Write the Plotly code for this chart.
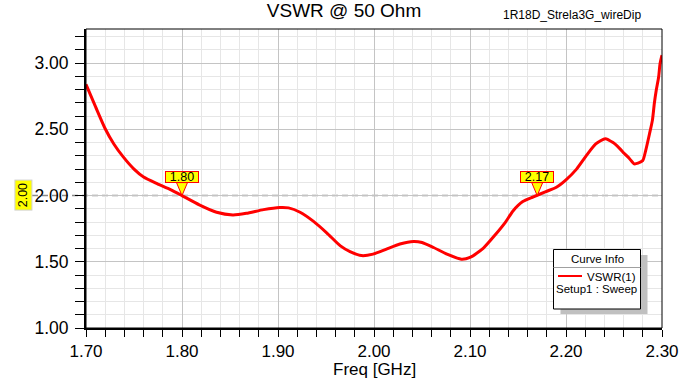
import plotly.graph_objects as go

# ---------------- data ----------------
freq_ghz = [1.700, 1.710, 1.720, 1.729, 1.739, 1.750, 1.760, 1.774, 1.788, 1.800,
            1.818, 1.836, 1.853, 1.867, 1.885, 1.902, 1.911, 1.923, 1.937, 1.951,
            1.965, 1.975, 1.987, 1.999, 2.013, 2.027, 2.041, 2.050, 2.062, 2.076,
            2.091, 2.100, 2.114, 2.127, 2.137, 2.145, 2.155, 2.166, 2.179, 2.190,
            2.200, 2.211, 2.221, 2.231, 2.241, 2.249, 2.256, 2.2605, 2.266, 2.271,
            2.275, 2.280, 2.283, 2.287, 2.290, 2.292, 2.294, 2.2965, 2.298, 2.300]
vswr = [2.84, 2.67, 2.505, 2.39, 2.29, 2.20, 2.14, 2.09, 2.045, 2.00,
        1.93, 1.874, 1.854, 1.866, 1.894, 1.910, 1.907, 1.874, 1.805, 1.717,
        1.62, 1.577, 1.547, 1.558, 1.596, 1.634, 1.654, 1.646, 1.608, 1.558,
        1.52, 1.533, 1.604, 1.71, 1.80, 1.886, 1.955, 1.99, 2.03, 2.063,
        2.119, 2.20, 2.30, 2.39, 2.43, 2.40, 2.355, 2.32, 2.28, 2.24,
        2.245, 2.265, 2.34, 2.467, 2.568, 2.695, 2.795, 2.896, 2.997, 3.06]

marker_freqs = [1.80, 2.17]
marker_labels = ["1.80", "2.17"]
ref_level = 2.00
ref_label = "2.00"

series_name = "VSWR(1)"
sweep_name = "Setup1 : Sweep"
title_text = "VSWR @ 50 Ohm"
design_text = "1R18D_Strela3G_wireDip"
x_title = "Freq [GHz]"

# ---------------- layout helpers (pixel -> paper) ----------------
W, H = 688, 378
ML, MR, MT, MB = 86, 26, 29, 50
PW, PH = W - ML - MR, H - MT - MB


def px(x):
    return (x - ML) / PW


def py(y):
    return (H - MB - y) / PH


FONT = "Arial, Liberation Sans, sans-serif"

fig = go.Figure()
fig.add_trace(go.Scatter(
    x=freq_ghz, y=vswr, mode="lines", name=series_name,
    line=dict(color="#ff0000", width=3, shape="spline", smoothing=0.6),
    showlegend=False, hoverinfo="x+y"))

axis_common = dict(
    automargin=False,
    showline=True, linecolor="black", linewidth=2,
    ticks="outside", tickcolor="black", tickwidth=1,
    showgrid=True, gridcolor="#c4c4c4", gridwidth=1,
    zeroline=False, tickformat=".2f",
)

fig.update_xaxes(
    range=[1.70, 2.30], tick0=1.70, dtick=0.1, ticklen=7,
    tickfont=dict(family=FONT, size=17, color="black"),
    minor=dict(dtick=0.02, ticks="outside", ticklen=7, tickcolor="black",
               showgrid=True, gridcolor="#e6e6e6", gridwidth=1),
    **axis_common)
fig.update_yaxes(
    range=[1.00, 3.258], tick0=1.0, dtick=0.5, ticklen=9,
    ticklabelstandoff=3,
    tickfont=dict(family=FONT, size=17.5, color="black"),
    minor=dict(dtick=0.1, ticks="outside", ticklen=9, tickcolor="black",
               showgrid=True, gridcolor="#e6e6e6", gridwidth=1),
    **axis_common)

shapes = []
# plot frame (top/right thin)
shapes.append(dict(type="rect", xref="paper", yref="paper", x0=0, x1=1, y0=0, y1=1,
                   line=dict(color="black", width=1), layer="above"))
# reference dashed line at 2.00
shapes.append(dict(type="line", xref="paper", yref="y", x0=px(22), x1=1,
                   y0=ref_level, y1=ref_level,
                   line=dict(color="#8a8a8a", width=1.5, dash="6px,4px"),
                   layer="between"))
# marker triangles
for f in marker_freqs:
    shapes.append(dict(type="path", xref="x", yref="y", xsizemode="pixel",
                       ysizemode="pixel", xanchor=f, yanchor=ref_level,
                       path="M0,0 L-5.5,13 L5.5,13 Z",
                       fillcolor="#ffff00", line=dict(color="#ff0000", width=1),
                       layer="above"))
# curve-info panel
shapes.append(dict(type="rect", xref="paper", yref="paper",
                   x0=px(560.5), x1=px(647.5), y0=py(314), y1=py(255),
                   fillcolor="#c0c0c0", line=dict(width=0), layer="above"))
shapes.append(dict(type="rect", xref="paper", yref="paper",
                   x0=px(553.5), x1=px(640.5), y0=py(309), y1=py(249.5),
                   fillcolor="white", line=dict(color="black", width=1), layer="above"))
shapes.append(dict(type="line", xref="paper", yref="paper",
                   x0=px(553.5), x1=px(640.5), y0=py(267.5), y1=py(267.5),
                   line=dict(color="#a0a0a0", width=1), layer="above"))
shapes.append(dict(type="line", xref="paper", yref="paper",
                   x0=px(558), x1=px(582), y0=py(276), y1=py(276),
                   line=dict(color="#ff0000", width=2), layer="above"))

annotations = []
for f, lab in zip(marker_freqs, marker_labels):
    annotations.append(dict(x=f, y=ref_level, xref="x", yref="y", text=lab,
                            showarrow=False, yshift=19, width=32, height=10,
                            bgcolor="#ffff00", bordercolor="#ff0000", borderwidth=1,
                            borderpad=0, font=dict(family=FONT, size=12.5, color="black")))
annotations.append(dict(x=px(14), y=ref_level, xref="paper", yref="y", text=ref_label,
                        showarrow=False, textangle=-90, width=29, height=16,
                        bgcolor="#ffff00", bordercolor="#d0d0d0", borderwidth=1, borderpad=0,
                        font=dict(family=FONT, size=12.5, color="black")))
annotations.append(dict(x=px(571.5), y=py(15), xref="paper", yref="paper",
                        text=design_text, showarrow=False, xanchor="center", yanchor="middle",
                        font=dict(family=FONT, size=12, color="black")))
annotations.append(dict(x=px(374), y=py(369.5), xref="paper", yref="paper",
                        text=x_title, showarrow=False, xanchor="center", yanchor="middle",
                        borderpad=0, font=dict(family=FONT, size=17, color="black")))
annotations.append(dict(x=px(597), y=py(259), xref="paper", yref="paper",
                        text="Curve Info", showarrow=False, xanchor="center", yanchor="middle",
                        font=dict(family=FONT, size=11.5, color="black")))
annotations.append(dict(x=px(637.5), y=py(276.5), xref="paper", yref="paper",
                        text=series_name, showarrow=False, xanchor="right", yanchor="middle",
                        font=dict(family=FONT, size=11.5, color="black")))
annotations.append(dict(x=px(596.7), y=py(288.5), xref="paper", yref="paper",
                        text=sweep_name, showarrow=False, xanchor="center", yanchor="middle",
                        font=dict(family=FONT, size=11.5, color="black")))

fig.update_layout(
    width=W, height=H, autosize=False,
    margin=dict(l=ML, r=MR, t=MT, b=MB, autoexpand=False),
    paper_bgcolor="white", plot_bgcolor="white",
    title=dict(text=title_text, x=0.5, xref="container", xanchor="center",
               y=1 - 10 / H, yref="container", yanchor="middle",
               font=dict(family=FONT, size=19, color="black")),
    shapes=shapes, annotations=annotations,
    showlegend=False,
)

fig.write_html("out.html", config={"displayModeBar": False},
               post_script="document.body.style.margin='0';document.body.style.overflow='hidden';")
